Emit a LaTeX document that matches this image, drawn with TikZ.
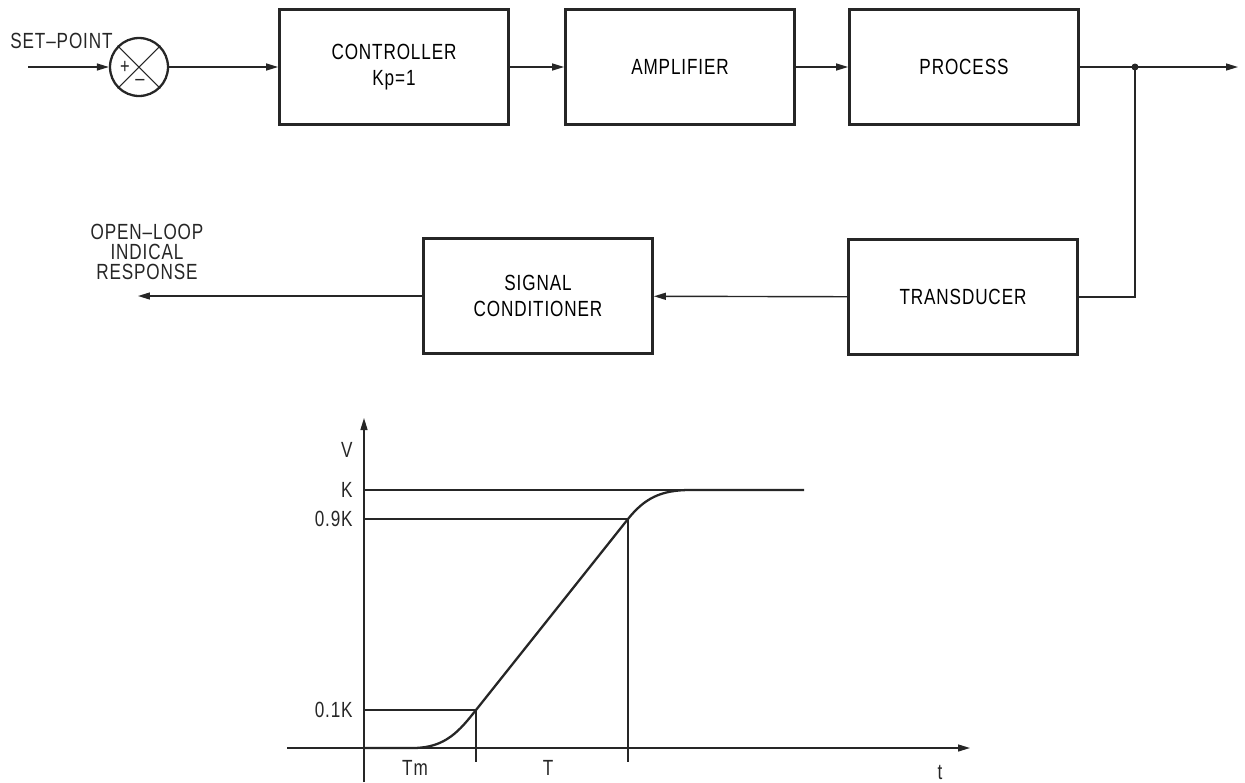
\documentclass[tikz,border=0pt]{standalone}
\usepackage{fontspec}
\newfontfamily\plotfont{Liberation Sans}[FakeStretch=0.78,LetterSpace=4]
\usetikzlibrary{arrows.meta}
\colorlet{ink}{black!85}
\tikzset{
  block/.style={draw=ink, line width=1.6pt, minimum width=4.58cm, minimum height=2.3cm, align=center, inner sep=0pt},
  sig/.style={draw=ink, line width=0.8pt, -{Triangle[length=2.4mm,width=1.4mm]}},
  lbl/.style={text=ink, inner sep=0pt}
}
\def\drawsig{\draw[sig]}
\def\drawline{\draw[draw=ink, line width=0.8pt]}
\def\blocknode{\node[block]}

\begin{document}
\begin{tikzpicture}[x=0.02cm,y=-0.02cm,font=\plotfont\fontsize{12.5}{11.4}\selectfont]
\useasboundingbox (0,0) rectangle (1245,782);
% loop of blocks
\coordinate (in) at (28,67);
\node[lbl, anchor=base west] (setpt) at (10,48) {SET\textendash POINT};
\node[circle, draw=ink, line width=1.3pt, minimum size=1.16cm, inner sep=0pt] (sum) at (139,67) {};
\draw[ink, line width=0.6pt] (sum.north west) -- (sum.south east) (sum.south west) -- (sum.north east);
\node[lbl, font=\plotfont\fontsize{12}{12}\selectfont] (plus) at (125,67) {+};
\node[lbl, font=\plotfont\fontsize{12}{12}\selectfont] (minus) at (140,82) {\textendash};
\blocknode (ctrl) at (394,67) {CONTROLLER\\[3pt]Kp=1};
\blocknode (amp) at (680,67) {AMPLIFIER};
\blocknode (proc) at (964,67) {PROCESS};
\blocknode (trans) at (963,297) {TRANSDUCER};
\blocknode (cond) at (538,296) {SIGNAL\\[3pt]CONDITIONER};
\coordinate (tap) at (1135,67);
\coordinate (out) at (1238,67);
\coordinate (turn) at (1135,297);
\coordinate (resp) at (138,296);
\drawsig (in) -- (sum);
\drawsig (sum) -- (ctrl);
\drawsig (ctrl) -- (amp);
\drawsig (amp) -- (proc);
\drawsig (proc) -- (out);
\fill[ink] (tap) circle (3.5);
\drawline (tap) -- (turn) -- (trans.east);
\drawsig (trans) -- (cond);
\drawsig (cond.west) -- (resp);
\node[lbl, align=center] (resplbl) at (147,252) {OPEN\textendash LOOP\\INDICAL\\RESPONSE};
% step response
\coordinate (o) at (364,748);
\drawsig (364,782) -- (364,418);
\drawsig (287,748) -- (970,748);
\drawline (364,490) -- (690,490);
\drawline (364,519) -- (628,519) -- (628,762);
\drawline (364,710) -- (476,710) -- (476,762);
\draw[ink, line width=1.3pt] (o) -- (413,748) .. controls (446,748) and (460,730) .. (476,710)
  -- (628,519) .. controls (644,499) and (660,490) .. (690,490) -- (804,490);
\node[lbl, anchor=east] (lv) at (353,450) {V};
\node[lbl, anchor=east] (lk) at (353,490) {K};
\node[lbl, anchor=east] (l9) at (353,519) {0.9K};
\node[lbl, anchor=east] (l1) at (353,710) {0.1K};
\node[lbl] (ltm) at (415,768) {Tm};
\node[lbl] (lt) at (548,768) {T};
\node[lbl] (ltime) at (940,772) {t};
\end{tikzpicture}
\end{document}
